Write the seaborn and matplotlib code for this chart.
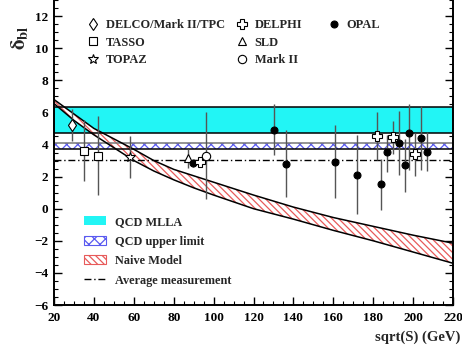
import matplotlib
matplotlib.use("Agg")
import matplotlib.pyplot as plt
import seaborn as sns
from matplotlib.lines import Line2D
from matplotlib.patches import Patch
from matplotlib.ticker import MultipleLocator

sns.set_theme(style="ticks")
plt.rcParams["font.family"] = ["Liberation Serif", "DejaVu Serif"]
plt.rcParams["font.weight"] = "bold"
plt.rcParams["mathtext.fontset"] = "stix"
plt.rcParams["hatch.linewidth"] = 0.9

# -------------------------------------------------------
# Data
# -------------------------------------------------------

delco_x = [29.0]
delco_y = [5.2]
delco_err = [1.0]

tasso_x = [35.0, 42.0]
tasso_y = [3.6, 3.3]
tasso_err = [1.9, 2.45]

topaz_x = [58.0]
topaz_y = [3.2]
topaz_err = [1.3]

sld_x = [87.3]
sld_y = [3.13]
sld_err = [0.6]

opal_x = [89.8, 130.3, 136.1, 161.0, 172.0, 184.1, 187.0, 193.1, 195.9, 197.9, 203.9, 206.9]
opal_y = [2.82, 4.92, 2.80, 2.92, 2.09, 1.51, 3.51, 4.11, 2.72, 4.73, 4.42, 3.55]
opal_err_lo = [0.2, 1.6, 2.06, 2.28, 2.45, 1.6, 1.2, 2.0, 1.7, 2.3, 2.0, 1.2]
opal_err_hi = [0.2, 1.6, 2.1, 2.28, 2.5, 1.6, 1.1, 2.0, 1.65, 1.8, 2.0, 1.2]

delphi_x = [93.2, 182.1, 190.1, 201.1]
delphi_y = [2.88, 4.54, 4.44, 3.38]
delphi_err = [0.25, 1.5, 1.05, 1.35]

markii_x = [96.2]
markii_y = [3.3]
markii_err = [2.7]

# bands
mlla_lo, mlla_hi = 4.73, 6.31
upper_lo, upper_hi = 3.72, 4.07
average_value = 3.05

naive_sqrt_s = [20, 30, 40, 50, 60, 70, 80, 90, 100, 120, 140, 160, 180, 200, 220]
naive_hi = [6.8, 5.9, 5.0, 4.35, 3.7, 3.0, 2.45, 2.05, 1.65, 0.85, 0.1, -0.55, -1.1, -1.65, -2.15]
naive_lo = [6.55, 5.5, 4.6, 3.8, 3.0, 2.35, 1.8, 1.3, 0.85, 0.0, -0.65, -1.35, -2.0, -2.7, -3.4]

X_RANGE = [20, 220]

CYAN = "#22f5f5"
BLUE_HATCH = "#5a5af0"
RED_HATCH = "#e85a5a"
BAR_GREY = "#555555"
RED_PATTERN = "\\\\\\\\\\"

# -------------------------------------------------------
# Figure
# -------------------------------------------------------

fig = plt.figure(figsize=(4.62, 3.45), dpi=100)
ax = fig.add_axes([54 / 462, 40 / 345, 399 / 462, 305 / 345])

# QCD MLLA band
ax.fill_between(X_RANGE, mlla_lo, mlla_hi, color=CYAN, linewidth=0, zorder=1)
ax.plot(X_RANGE, [mlla_hi, mlla_hi], color="black", lw=1.1, zorder=2)
ax.plot(X_RANGE, [mlla_lo, mlla_lo], color="black", lw=1.1, zorder=2)

# QCD upper limit band
ax.fill_between(X_RANGE, upper_lo, upper_hi, facecolor="white",
                edgecolor=BLUE_HATCH, hatch="xxx", linewidth=0, zorder=1)
ax.plot(X_RANGE, [upper_hi, upper_hi], color="#777777", lw=1.1, zorder=2)
ax.plot(X_RANGE, [upper_lo, upper_lo], color="black", lw=1.1, zorder=2)

# Naive model band
ax.fill_between(naive_sqrt_s, naive_lo, naive_hi, facecolor="white",
                edgecolor=RED_HATCH, hatch=RED_PATTERN, linewidth=0, zorder=1)
ax.plot(naive_sqrt_s, naive_hi, color="black", lw=1.1, zorder=2)
ax.plot(naive_sqrt_s, naive_lo, color="black", lw=1.1, zorder=2)

# Average measurement
ax.plot(X_RANGE, [average_value, average_value], color="black", lw=1.0,
        dashes=[5, 2, 1, 2], zorder=2)

# Data points
point_style = dict(ls="none", ecolor=BAR_GREY, elinewidth=1.0, capsize=0,
                   mec="black", mew=0.8, zorder=4)

ax.errorbar(delco_x, delco_y, yerr=delco_err, marker="d", ms=6, mfc="white", **point_style)
ax.errorbar(tasso_x, tasso_y, yerr=tasso_err, marker="s", ms=5.5, mfc="white", **point_style)
ax.errorbar(topaz_x, topaz_y, yerr=topaz_err, marker="*", ms=7, mfc="white", **point_style)
ax.errorbar(sld_x, sld_y, yerr=sld_err, marker="^", ms=5.5, mfc="white", **point_style)
ax.errorbar(opal_x, opal_y, yerr=[opal_err_lo, opal_err_hi], marker="o", ms=5,
            mfc="black", **point_style)
ax.errorbar(delphi_x, delphi_y, yerr=delphi_err, marker="P", ms=7, mfc="white", **point_style)
ax.errorbar(markii_x, markii_y, yerr=markii_err, marker="o", ms=6, mfc="white", **point_style)

# -------------------------------------------------------
# Axes styling
# -------------------------------------------------------

ax.set_xlim(20, 220)
ax.set_ylim(-6, 13)
ax.xaxis.set_major_locator(MultipleLocator(20))
ax.xaxis.set_minor_locator(MultipleLocator(5))
ax.yaxis.set_minor_locator(MultipleLocator(0.5))
ax.set_yticks(range(-6, 13, 2))
ax.tick_params(which="both", direction="in", right=True, top=False,
               labelsize=9.5, colors="black")
ax.tick_params(which="major", length=6, width=1.0)
ax.tick_params(which="minor", length=3, width=0.8)
ax.tick_params(axis="x", pad=5)
ax.tick_params(axis="y", pad=4)
for label in ax.get_xticklabels() + ax.get_yticklabels():
    label.set_fontweight("bold")

for side in ["left", "right", "bottom"]:
    ax.spines[side].set_linewidth(1.4)
    ax.spines[side].set_color("black")
ax.spines["top"].set_visible(False)
ax.set_facecolor("white")
ax.grid(False)

fig.text(460 / 462, 1 - 337 / 345, "sqrt(S) (GeV)", ha="right", va="center",
         fontsize=10.5, fontweight="bold")
fig.text(19 / 462, 1 - 38 / 345, r"$\mathbf{\delta_{bl}}$", rotation=90,
         ha="center", va="center", fontsize=15)

# -------------------------------------------------------
# Legends
# -------------------------------------------------------


def marker_handle(marker, size, face):
    return Line2D([], [], ls="none", marker=marker, ms=size, mfc=face,
                  mec="black", mew=0.8)


legend_style = dict(frameon=False, prop={"size": 8.9, "weight": "bold"},
                    handlelength=1.1, handletextpad=0.5, labelspacing=0.45,
                    borderpad=0, borderaxespad=0, loc="upper left")

columns = [
    ([marker_handle("d", 6, "white"), marker_handle("s", 5.5, "white"),
      marker_handle("*", 7, "white")],
     ["DELCO/Mark II/TPC", "TASSO", "TOPAZ"], 86),
    ([marker_handle("P", 7, "white"), marker_handle("^", 5.5, "white"),
      marker_handle("o", 6, "white")],
     ["DELPHI", "SLD", "Mark II"], 235),
    ([marker_handle("o", 5, "black")], ["OPAL"], 327),
]

for handles, labels, left_px in columns:
    leg = ax.legend(handles, labels,
                    bbox_to_anchor=((left_px - 54) / 399, 1 - 19 / 305),
                    **legend_style)
    ax.add_artist(leg)

bottom_handles = [
    Patch(facecolor=CYAN, edgecolor="none"),
    Patch(facecolor="white", edgecolor=BLUE_HATCH, hatch="xxx", linewidth=0.8),
    Patch(facecolor="white", edgecolor=RED_HATCH, hatch=RED_PATTERN, linewidth=0.8),
    Line2D([], [], color="black", lw=1.0, dashes=[5, 2, 1, 2]),
]
bottom_labels = ["QCD MLLA", "QCD upper limit", "Naive Model", "Average measurement"]

bottom_legend = ax.legend(bottom_handles, bottom_labels,
                          bbox_to_anchor=((84 - 54) / 399, 1 - 216 / 305),
                          frameon=False, prop={"size": 8.8, "weight": "bold"},
                          handlelength=1.8, handleheight=0.75, handletextpad=0.75,
                          labelspacing=0.62, borderpad=0, borderaxespad=0,
                          loc="upper left")

fig.savefig("out.png", dpi=100, facecolor="white")
